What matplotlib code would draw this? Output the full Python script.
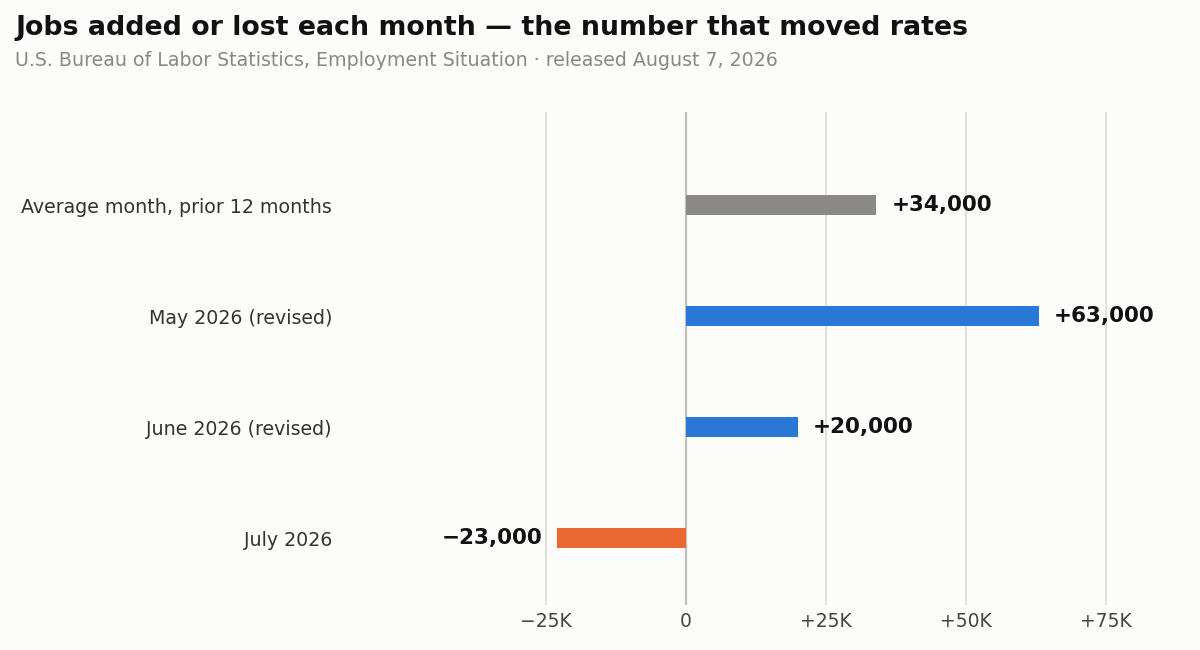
import matplotlib
matplotlib.use("Agg")
import matplotlib.pyplot as plt
from matplotlib.ticker import FixedLocator, FuncFormatter

plt.rcParams["font.family"] = ["DejaVu Sans"]

categories = ["Average month, prior 12 months", "May 2026 (revised)", "June 2026 (revised)", "July 2026"]
values = [34000, 63000, 20000, -23000]
value_labels = ["+34,000", "+63,000", "+20,000", "\u221223,000"]
colors = ["#8a8984", "#2a78d6", "#2a78d6", "#eb6834"]
tick_values = [-25000, 0, 25000, 50000, 75000]
tick_labels = ["\u221225K", "0", "+25K", "+50K", "+75K"]

BG = "#fcfcfa"
fig = plt.figure(figsize=(12, 6.5), dpi=100, facecolor=BG)
W, H = 1200, 650
left, right, top, bottom = 350, 1162, 112, 605
ax = fig.add_axes([left / W, 1 - bottom / H, (right - left) / W, (bottom - top) / H])
ax.set_facecolor(BG)

y = list(range(len(categories)))
ax.barh(y, values, height=0.18, color=colors, zorder=3)
ax.set_xlim(-60000, 85000)
ax.set_ylim(3.6, -0.84)

ax.xaxis.set_major_locator(FixedLocator(tick_values))
ax.xaxis.set_major_formatter(FuncFormatter(lambda v, p: tick_labels[tick_values.index(v)] if v in tick_values else ""))
ax.grid(axis="x", color="#dcdbd5", linewidth=1.2, zorder=0)
ax.axvline(0, color="#c2c0b8", linewidth=1.6, zorder=2)
ax.set_yticks(y)
ax.set_yticklabels(categories, fontsize=13.7, color="#333333")
ax.tick_params(axis="y", length=0, pad=13)
ax.tick_params(axis="x", length=0, labelsize=13.5, labelcolor="#444444", pad=5)
for s in ax.spines.values():
    s.set_visible(False)

for yi, v, lab in zip(y, values, value_labels):
    off = 2700 if v >= 0 else -2700
    ax.text(v + off, yi, lab, ha="left" if v >= 0 else "right", va="center",
            fontsize=15.5, fontweight="bold", color="#111111", zorder=4)

fig.text(15 / W, 1 - 28 / H, "Jobs added or lost each month \u2014 the number that moved rates",
         fontsize=19.3, fontweight="bold", color="#111111", ha="left", va="center")
fig.text(15 / W, 1 - 61 / H, "U.S. Bureau of Labor Statistics, Employment Situation \u00b7 released August 7, 2026",
         fontsize=13.7, color="#888888", ha="left", va="center")

fig.savefig("out.png", dpi=100, facecolor=BG)
